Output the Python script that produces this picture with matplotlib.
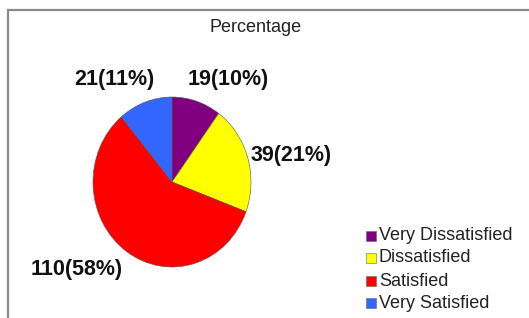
import matplotlib
matplotlib.use("Agg")
import matplotlib.pyplot as plt
from matplotlib.patches import Rectangle

categories = ["Very Dissatisfied", "Dissatisfied", "Satisfied", "Very Satisfied"]
counts = [19, 39, 110, 21]
percents = [10, 21, 58, 11]
colors = ["#800080", "#FFFF00", "#FF0000", "#3366FF"]

W, H = 529, 318
fig = plt.figure(figsize=(W / 100, H / 100), dpi=100)
plt.rcParams['font.family'] = ['Liberation Sans', 'DejaVu Sans']

def px(x, y):
    return x / W, 1 - y / H

# outer frame
fig.patches.append(Rectangle(px(8, 330), (W + 20) / W, (330 - 10) / H,
                             transform=fig.transFigure, fill=False,
                             edgecolor="#8a8a8a", linewidth=1.6))

# title
fig.text(*px(256, 27), "Percentage", ha="center", va="center",
         fontsize=13, color="#222222")

# pie (slightly taller than wide, as in the reference)
cx, cy, rx, ry = 172, 182, 79, 85
ax = fig.add_axes([(cx - rx) / W, (H - cy - ry) / H, 2 * rx / W, 2 * ry / H])
wedges, _ = ax.pie(counts, colors=colors, startangle=90, counterclock=False,
                   radius=1, wedgeprops=dict(edgecolor="#555555", linewidth=0.4))
ax.set_xlim(-1, 1)
ax.set_ylim(-1, 1)
ax.set_aspect("auto")
ax.axis("off")

# data labels
label_pos = [(228, 80), (291, 156), (77, 269), (114, 80)]
for (x, y), c, p in zip(label_pos, counts, percents):
    fig.text(*px(x, y), f"{c}({p}%)", ha="center", va="center",
             fontsize=15.5, fontweight="bold", color="#111111")

# legend
leg_y = [236, 258, 281, 303]
for yy, cat, col in zip(leg_y, categories, colors):
    fig.patches.append(Rectangle(px(366, yy + 5), 10 / W, 10 / H,
                                 transform=fig.transFigure, facecolor=col,
                                 edgecolor="#666666", linewidth=0.4))
    fig.text(*px(379, yy), cat, ha="left", va="center", fontsize=13,
             color="#222222")

fig.savefig("out.png", dpi=100)
